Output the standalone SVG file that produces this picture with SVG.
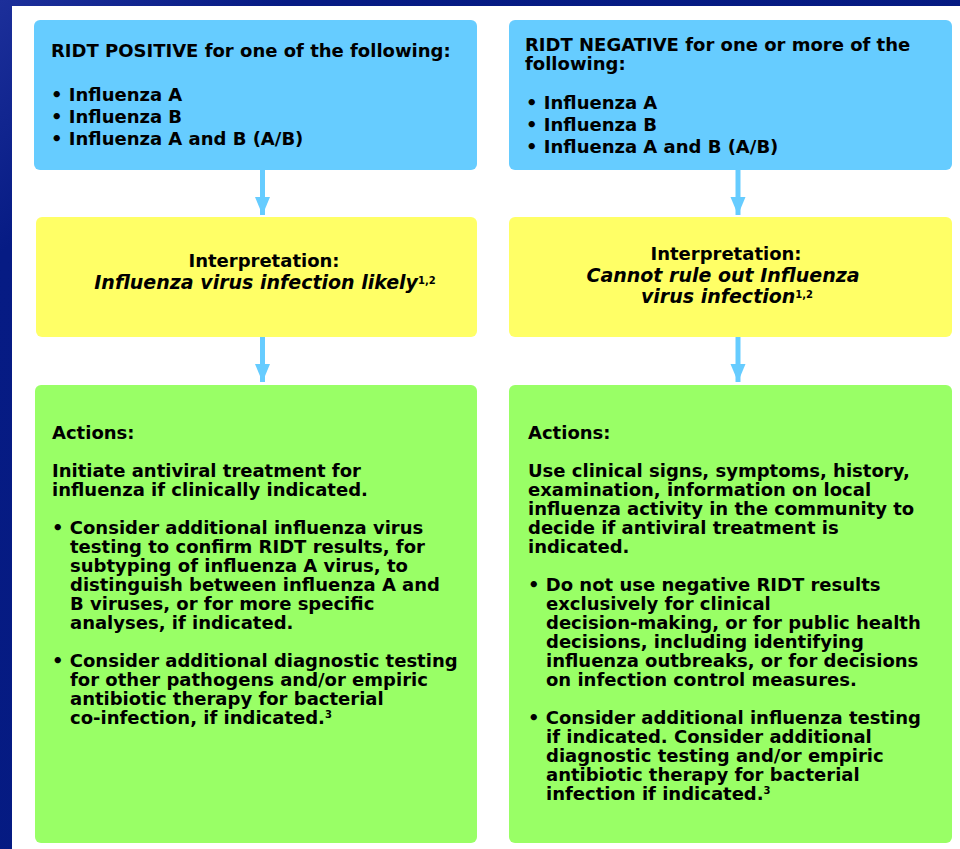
<svg xmlns="http://www.w3.org/2000/svg" width="960" height="849" viewBox="0 0 960 849">
<style>
.t{font-family:"DejaVu Sans","Liberation Sans",sans-serif;font-weight:bold;font-size:18px;fill:#000}
.i{font-style:italic;font-size:19px}
.c{text-anchor:middle}
.sup{font-size:10px;font-style:normal}
.blue{fill:#66ccff}
.yel{fill:#ffff66}
.grn{fill:#99ff66}
.arrow{stroke:#66ccff;stroke-width:5;fill:none}
</style>
<defs>
<linearGradient id="bg" x1="0" y1="0" x2="1" y2="1">
<stop offset="0" stop-color="#1c2f9a"/>
<stop offset="0.15" stop-color="#061b84"/>
<stop offset="1" stop-color="#041a80"/>
</linearGradient>
<marker id="ah" markerUnits="userSpaceOnUse" markerWidth="20" markerHeight="20" refX="18" refY="7.5" orient="auto">
<path d="M0,0 L18,7.5 L0,15 Z" fill="#66ccff"/>
</marker>
</defs>
<rect x="0" y="0" width="960" height="849" fill="url(#bg)"/>
<rect x="12" y="6" width="948" height="843" fill="#ffffff"/>

<g id="connectors">
<line class="arrow" x1="262.5" y1="170" x2="262.5" y2="215" marker-end="url(#ah)"/>
<line class="arrow" x1="262.5" y1="337" x2="262.5" y2="382" marker-end="url(#ah)"/>
<line class="arrow" x1="738" y1="170" x2="738" y2="215" marker-end="url(#ah)"/>
<line class="arrow" x1="738" y1="337" x2="738" y2="382" marker-end="url(#ah)"/>
</g>

<g id="pos-result">
<rect class="blue" x="34" y="20" width="443" height="150" rx="6"/>
<text class="t" x="51" y="57">RIDT POSITIVE for one of the following:</text>
<text class="t" x="51" y="101">• Influenza A</text>
<text class="t" x="51" y="123">• Influenza B</text>
<text class="t" x="51" y="145">• Influenza A and B (A/B)</text>
</g>

<g id="neg-result">
<rect class="blue" x="509" y="20" width="443" height="150" rx="6"/>
<text class="t" x="525" y="51">RIDT NEGATIVE for one or more of the</text>
<text class="t" x="525" y="70">following:</text>
<text class="t" x="526" y="109">• Influenza A</text>
<text class="t" x="526" y="131">• Influenza B</text>
<text class="t" x="526" y="153">• Influenza A and B (A/B)</text>
</g>

<g id="pos-interp">
<rect class="yel" x="36" y="217" width="441" height="120" rx="6"/>
<text class="t c" x="264" y="267">Interpretation:</text>
<text class="t c i" x="265" y="289">Influenza virus infection likely<tspan class="sup" dy="-5">1,2</tspan></text>
</g>

<g id="neg-interp">
<rect class="yel" x="509" y="217" width="443" height="120" rx="6"/>
<text class="t c" x="726" y="260">Interpretation:</text>
<text class="t c i" x="723" y="282">Cannot rule out Influenza</text>
<text class="t c i" x="727" y="303">virus infection<tspan class="sup" dy="-5">1,2</tspan></text>
</g>

<g id="pos-actions">
<rect class="grn" x="35" y="385" width="442" height="458" rx="6"/>
<text class="t" x="52" y="439">Actions:</text>
<text class="t" x="52" y="477">Initiate antiviral treatment for</text>
<text class="t" x="52" y="496">influenza if clinically indicated.</text>
<text class="t" x="52" y="534">• Consider additional influenza virus</text>
<text class="t" x="70" y="553">testing to confirm RIDT results, for</text>
<text class="t" x="70" y="572">subtyping of influenza A virus, to</text>
<text class="t" x="70" y="591">distinguish between influenza A and</text>
<text class="t" x="70" y="610">B viruses, or for more specific</text>
<text class="t" x="70" y="629">analyses, if indicated.</text>
<text class="t" x="52" y="667">• Consider additional diagnostic testing</text>
<text class="t" x="70" y="686">for other pathogens and/or empiric</text>
<text class="t" x="70" y="705">antibiotic therapy for bacterial</text>
<text class="t" x="70" y="724">co-infection, if indicated.<tspan class="sup" dy="-6">3</tspan></text>
</g>

<g id="neg-actions">
<rect class="grn" x="509" y="385" width="443" height="458" rx="6"/>
<text class="t" x="528" y="439">Actions:</text>
<text class="t" x="528" y="477">Use clinical signs, symptoms, history,</text>
<text class="t" x="528" y="496">examination, information on local</text>
<text class="t" x="528" y="515">influenza activity in the community to</text>
<text class="t" x="528" y="534">decide if antiviral treatment is</text>
<text class="t" x="528" y="553">indicated.</text>
<text class="t" x="528" y="591">• Do not use negative RIDT results</text>
<text class="t" x="546" y="610">exclusively for clinical</text>
<text class="t" x="546" y="629">decision-making, or for public health</text>
<text class="t" x="546" y="648">decisions, including identifying</text>
<text class="t" x="546" y="667">influenza outbreaks, or for decisions</text>
<text class="t" x="546" y="686">on infection control measures.</text>
<text class="t" x="528" y="724">• Consider additional influenza testing</text>
<text class="t" x="546" y="743">if indicated. Consider additional</text>
<text class="t" x="546" y="762">diagnostic testing and/or empiric</text>
<text class="t" x="546" y="781">antibiotic therapy for bacterial</text>
<text class="t" x="546" y="800">infection if indicated.<tspan class="sup" dy="-6">3</tspan></text>
</g>
</svg>
